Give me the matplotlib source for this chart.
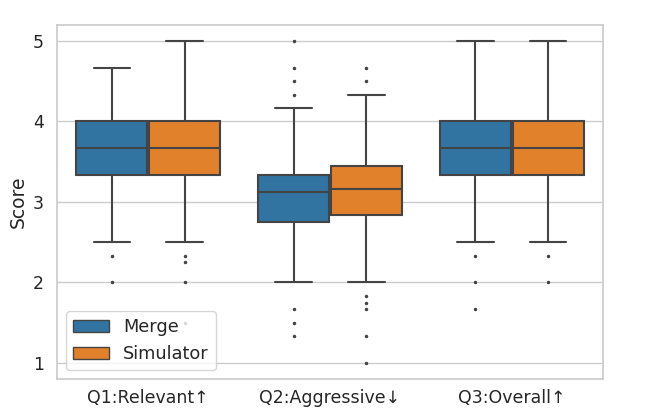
import numpy as np
import matplotlib.pyplot as plt
import seaborn as sns

sns.set_theme(style="whitegrid")
plt.rcParams['font.family'] = ['DejaVu Sans']

# Questions and systems
questions = ["Q1:Relevant\u2191", "Q2:Aggressive\u2193", "Q3:Overall\u2191"]
systems = ["Merge", "Simulator"]

# box statistics, order: Q1, Q2, Q3
merge_q1 = [3.333, 2.75, 3.333]
merge_med = [3.667, 3.125, 3.667]
merge_q3 = [4.0, 3.333, 4.0]
merge_lo = [2.5, 2.0, 2.5]
merge_hi = [4.667, 4.167, 5.0]
merge_fliers = [[2.333, 2.0],
                [5.0, 4.667, 4.5, 4.333, 1.667, 1.5, 1.333],
                [2.333, 2.0, 1.667]]

sim_q1 = [3.333, 2.833, 3.333]
sim_med = [3.667, 3.167, 3.667]
sim_q3 = [4.0, 3.45, 4.0]
sim_lo = [2.5, 2.0, 2.5]
sim_hi = [5.0, 4.333, 5.0]
sim_fliers = [[2.333, 2.25, 2.0, 1.5],
              [4.667, 4.5, 1.833, 1.75, 1.667, 1.333, 1.0],
              [2.333, 2.0]]

palette = sns.color_palette("tab10", 2, desat=0.75)
gray = "#444444"

def make_stats(q1, med, q3, lo, hi, fl):
    return [dict(q1=a, med=b, q3=c, whislo=d, whishi=e, fliers=f)
            for a, b, c, d, e, f in zip(q1, med, q3, lo, hi, fl)]

all_stats = [make_stats(merge_q1, merge_med, merge_q3, merge_lo, merge_hi, merge_fliers),
             make_stats(sim_q1, sim_med, sim_q3, sim_lo, sim_hi, sim_fliers)]

fig, ax = plt.subplots(figsize=(6.58, 4.08), dpi=100)
fig.subplots_adjust(left=0.087, right=0.916, top=0.939, bottom=0.071)

width = 0.4
base = np.arange(len(questions))
for i, (stats, color) in enumerate(zip(all_stats, palette)):
    pos = base - 0.2 + i * width
    ax.bxp(stats, positions=pos, widths=width * 0.98, capwidths=width / 2,
           patch_artist=True, manage_ticks=False,
           boxprops=dict(facecolor=color, edgecolor=gray, linewidth=1.5),
           whiskerprops=dict(color=gray, linewidth=1.5),
           capprops=dict(color=gray, linewidth=1.5),
           medianprops=dict(color=gray, linewidth=1.5),
           flierprops=dict(marker='o', markersize=1.5, markerfacecolor=gray,
                           markeredgecolor=gray))

ax.set_xticks(base)
ax.set_xticklabels(questions, fontsize=12.5)
ax.set_xlim(-0.5, 2.5)
ax.set_ylim(0.8, 5.2)
ax.set_yticks([1, 2, 3, 4, 5])
ax.tick_params(axis='y', labelsize=12.5)
ax.tick_params(axis='x', length=0, pad=7)
ax.set_ylabel("Score", fontsize=13.5)
ax.xaxis.grid(False)

handles = [plt.Rectangle((0, 0), 1, 1, facecolor=c, edgecolor=gray) for c in palette]
ax.legend(handles, systems, loc='lower left', fontsize=12.8)

plt.savefig("out.png")
